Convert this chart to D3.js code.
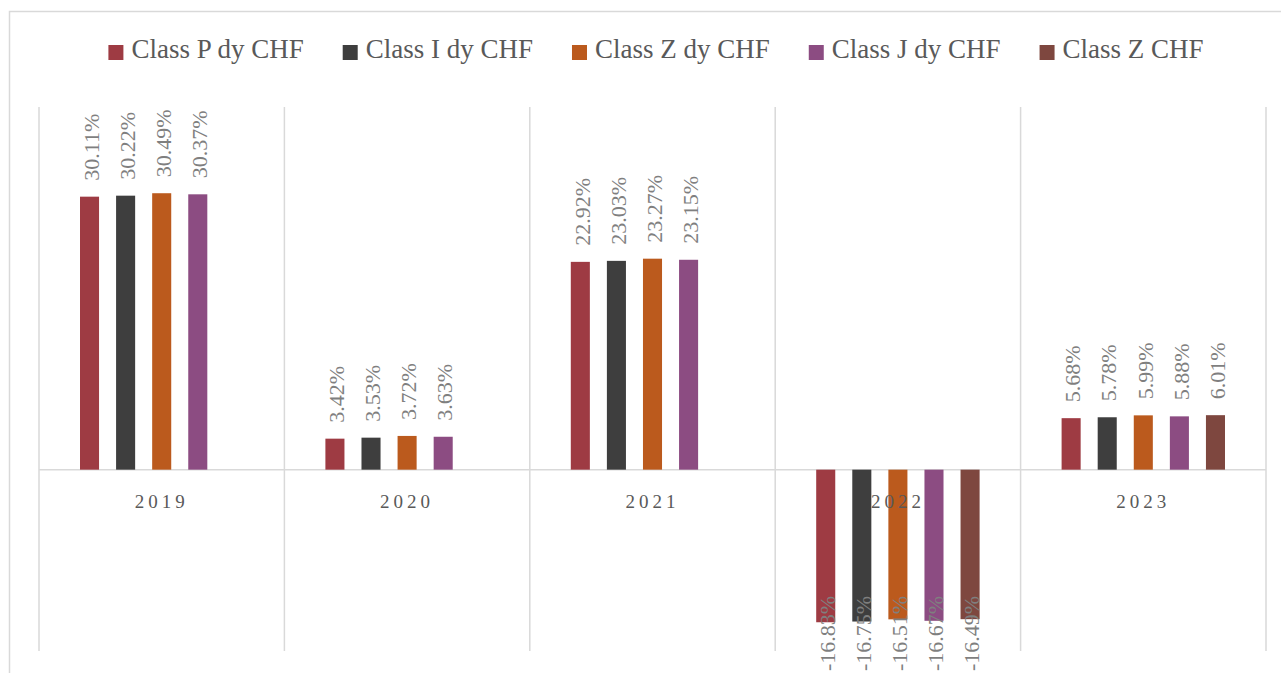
<!DOCTYPE html>
<html>
<head>
<meta charset="utf-8">
<script src="https://cdn.jsdelivr.net/npm/d3@7"></script>
<style>
  body { margin: 0; background: #fff; }
  svg { display: block; font-family: "Liberation Serif", "Times New Roman", serif; }
</style>
</head>
<body>
<div id="chart"></div>
<script>
var width = 1281;
var height = 673;

// data
var years = ["2019", "2020", "2021", "2022", "2023"];
var seriesNames = ["Class P dy CHF", "Class I dy CHF", "Class Z dy CHF", "Class J dy CHF", "Class Z CHF"];
var classPdy = [30.11, 3.42, 22.92, -16.83, 5.68];
var classIdy = [30.22, 3.53, 23.03, -16.75, 5.78];
var classZdy = [30.49, 3.72, 23.27, -16.51, 5.99];
var classJdy = [30.37, 3.63, 23.15, -16.67, 5.88];
var classZ = [null, null, null, -16.49, 6.01];
var seriesColors = ["#9e3b43", "#3e3e3e", "#bb5a1d", "#8c4c82", "#7e473f"];

var seriesValues = [classPdy, classIdy, classZdy, classJdy, classZ];

var plot = { left: 39, right: 1266, top: 107, bottom: 651 };

var svg = d3.select("#chart")
    .append("svg")
    .attr("width", width)
    .attr("height", height);

// chart frame
svg.append("rect")
    .attr("x", 9.5)
    .attr("y", 11.5)
    .attr("width", 1320)
    .attr("height", 720)
    .attr("fill", "none")
    .attr("stroke", "#d9d9d9")
    .attr("stroke-width", 1.5);

var x0 = d3.scaleBand()
    .domain(years)
    .range([plot.left, plot.right]);

// 5 slots per year, a missing value just leaves its slot empty
var x1 = d3.scaleBand()
    .domain(seriesNames)
    .range([41, x0.bandwidth() - 41])
    .paddingInner(0.472);

var y = d3.scaleLinear()
    .domain([-20, 40])
    .range([plot.bottom, plot.top]);

// vertical category separators
var edges = years.map(function(d) { return x0(d); }).concat([plot.right]);
svg.append("g")
    .selectAll("line")
    .data(edges)
    .enter()
    .append("line")
    .attr("x1", function(d) { return d; })
    .attr("x2", function(d) { return d; })
    .attr("y1", plot.top)
    .attr("y2", plot.bottom)
    .attr("stroke", "#d9d9d9")
    .attr("stroke-width", 1.5);

// zero line
svg.append("line")
    .attr("x1", plot.left)
    .attr("x2", plot.right)
    .attr("y1", y(0))
    .attr("y2", y(0))
    .attr("stroke", "#d9d9d9")
    .attr("stroke-width", 1.5);

// flatten into bar records
var bars = [];
years.forEach(function(yr, i) {
    seriesNames.forEach(function(s, j) {
        var v = seriesValues[j][i];
        if (v !== null) bars.push({ year: yr, series: s, value: v, color: seriesColors[j] });
    });
});

var barG = svg.append("g");
barG.selectAll("rect")
    .data(bars)
    .enter()
    .append("rect")
    .attr("x", function(d) { return x0(d.year) + x1(d.series); })
    .attr("width", x1.bandwidth())
    .attr("y", function(d) { return y(Math.max(0, d.value)); })
    .attr("height", function(d) { return Math.abs(y(d.value) - y(0)); })
    .attr("fill", function(d) { return d.color; });

// category labels, drawn over the bars
var xAxis = svg.append("g")
    .attr("transform", "translate(0," + y(0) + ")")
    .call(d3.axisBottom(x0).tickSize(0));
xAxis.select(".domain").remove();
xAxis.selectAll("text")
    .attr("y", 38)
    .attr("dy", 0)
    .attr("font-family", "Liberation Serif, serif")
    .attr("font-size", 19)
    .attr("letter-spacing", "4px")
    .attr("fill", "#595959");

// rotated data labels (negative ones pushed up so they stay inside the picture)
barG.selectAll("text")
    .data(bars)
    .enter()
    .append("text")
    .attr("text-anchor", function(d) { return d.value >= 0 ? "start" : "end"; })
    .attr("dy", "0.42em")
    .attr("font-size", 22)
    .attr("fill", "#7f7f7f")
    .text(function(d) { return d.value.toFixed(2) + "%"; })
    .attr("transform", function(d) {
        var cx = x0(d.year) + x1(d.series) + x1.bandwidth() / 2;
        var cy;
        if (d.value >= 0) {
            cy = y(d.value) - 16;
        } else {
            var len = this.getComputedTextLength();
            cy = Math.min(y(d.value) - 20, height - 2 - len);
        }
        return "translate(" + cx + "," + cy + ") rotate(-90)";
    });

// legend
var legend = svg.append("g");
var items = legend.selectAll("g")
    .data(seriesNames)
    .enter()
    .append("g");
items.append("rect")
    .attr("y", 45)
    .attr("width", 15)
    .attr("height", 15)
    .attr("fill", function(d, i) { return seriesColors[i]; });
items.append("text")
    .attr("x", 23)
    .attr("y", 58)
    .attr("font-size", 27)
    .attr("fill", "#595959")
    .text(function(d) { return d; });

var pos = 0;
var offsets = [];
items.each(function() {
    offsets.push(pos);
    pos += 23 + d3.select(this).select("text").node().getComputedTextLength() + 39;
});
var total = pos - 39;
var start = 656 - total / 2;
items.attr("transform", function(d, i) { return "translate(" + (start + offsets[i]) + ",0)"; });
</script>
</body>
</html>
